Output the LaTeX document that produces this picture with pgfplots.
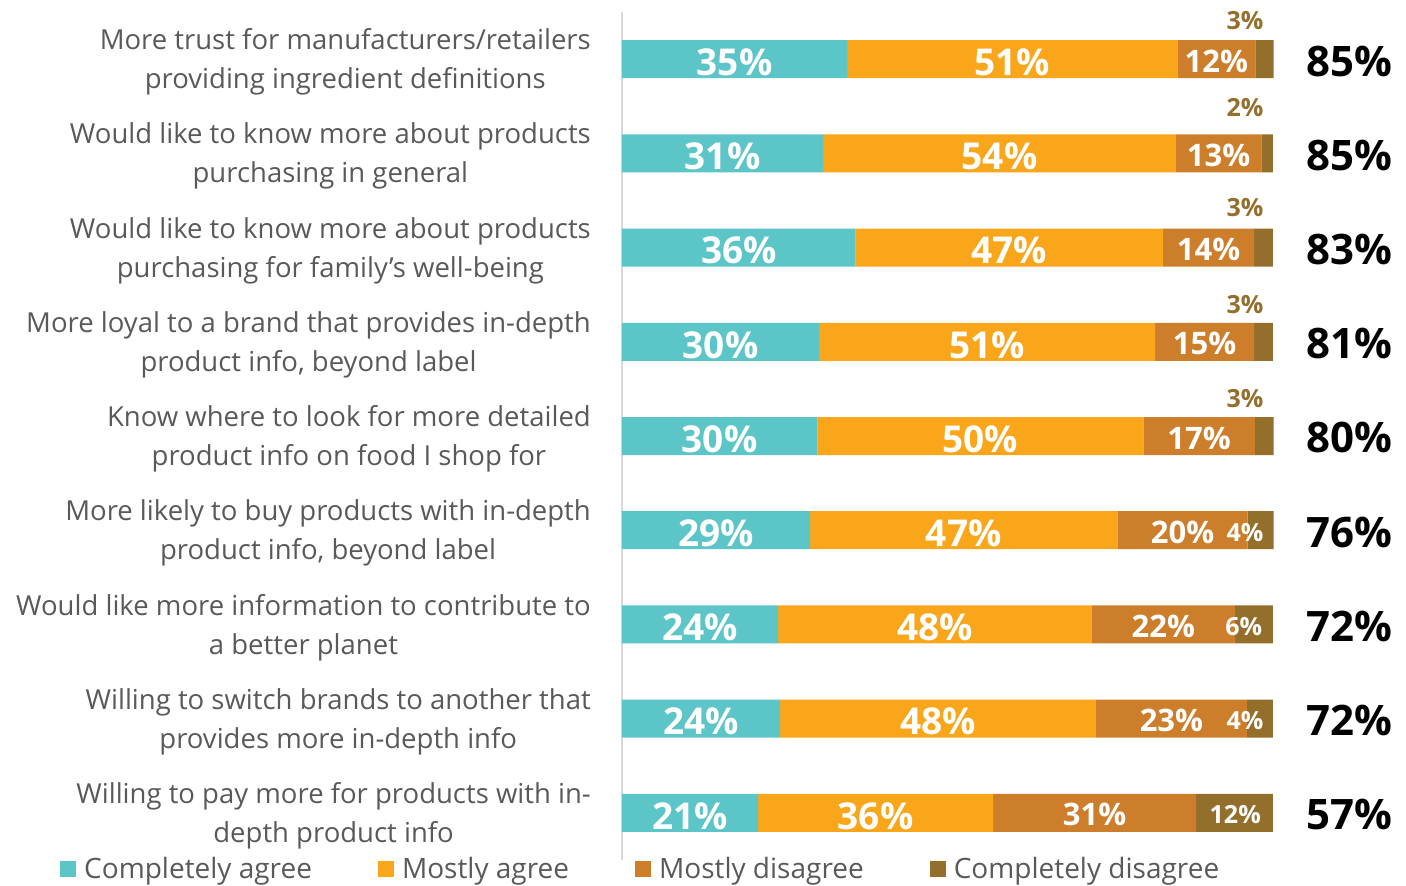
\documentclass[border=0pt]{standalone}
\usepackage{pgfplots}
\pgfplotsset{compat=1.18}
\usepackage{pgfplotstable}
\usepackage{fontspec}
\setmainfont{Open Sans}
\definecolor{cteal}{HTML}{5BC5C8}
\definecolor{corange}{HTML}{F9A61B}
\definecolor{cdorange}{HTML}{CD7E2A}
\definecolor{cbrown}{HTML}{936F2B}
\definecolor{tgray}{HTML}{595959}
\definecolor{lgray}{HTML}{D9D9D9}

\pgfplotstableread{
y a b c d la lb lc
0 34.6 50.7 12.0 2.8 35 51 12
1 30.9 54.2 13.1 1.8 31 54 13
2 35.9 47.2 14.0 2.9 36 47 14
3 30.3 51.6 15.2 2.9 30 51 15
4 30.0 50.1 17.1 2.9 30 50 17
5 28.9 47.2 20.0 4.0 29 47 20
6 24.0 48.1 22.1 5.8 24 48 22
7 24.3 48.5 23.2 4.0 24 48 23
8 20.9 36.1 31.2 11.8 21 36 31
}\bardata

\pgfplotstableread{
x y l
95.7 -0.414 3
95.7 0.51 2
95.7 1.58 3
95.7 2.6 3
95.7 3.6 3
}\abovelabels

\pgfplotstableread{
x y l
95.7 5.0 4
95.5 6.0 6
95.7 7.0 4
94.2 8.0 12
}\inlabels

\pgfplotstableread{
x y l
111.7 0.02 85
111.7 1.02 85
111.7 2.02 83
111.7 3.02 81
111.7 4.02 80
111.7 5.02 76
111.7 6.02 72
111.7 7.02 72
111.7 8.02 57
}\totals

\begin{document}
\begin{tikzpicture}
\useasboundingbox (-622pt,-26pt) rectangle (784pt,860pt);
\begin{axis}[
  at={(0,0)}, anchor=south west,
  scale only axis, width=651pt, height=848pt,
  xbar stacked, bar width=38pt,
  xmin=0, xmax=100, ymin=-0.5, ymax=8.5, y dir=reverse,
  axis x line=none, axis y line*=left,
  y axis line style={draw=lgray, line width=1.5pt},
  ytick={0,...,8}, ytick style={draw=none}, major tick length=0pt,
  yticklabels={
    {More trust for manufacturers/retailers\\providing ingredient definitions},
    {Would like to know more about products\\purchasing in general},
    {Would like to know more about products\\purchasing for family's well-being},
    {More loyal to a brand that provides in-depth\\product info, beyond label},
    {Know where to look for more detailed\\product info on food I shop for},
    {More likely to buy products with in-depth\\product info, beyond label},
    {Would like more information to contribute to\\a better planet},
    {Willing to switch brands to another that\\provides more in-depth info},
    {Willing to pay more for products with in-\\depth product info}},
  yticklabel style={align=center, font=\fontsize{27.5}{39}\selectfont, text=tgray, inner sep=1pt, xshift=-30pt, yshift=-3pt},
  clip=false,
  legend columns=4,
  legend style={at={(-0.8633,-0.0106)}, anchor=west, draw=none, fill=none, inner sep=0pt,
    font=\fontsize{28}{30}\selectfont, text=tgray,
    /tikz/every even column/.append style={column sep=66pt},
    nodes={inner sep=0pt}},
  legend image code/.code={\fill[#1] (0pt,-8pt) rectangle (16pt,8pt); \path (24pt,0pt);},
]
\addplot[fill=cteal, draw=none, nodes near coords={\pgfplotspointmeta\%}, point meta=explicit symbolic,
  every node near coord/.append style={anchor=center, yshift=-3pt, text=white, font=\fontsize{37}{40}\selectfont\bfseries}]
  table[x=a, y=y, meta=la]{\bardata};
\addlegendentry{Completely agree}
\addplot[fill=corange, draw=none, nodes near coords={\pgfplotspointmeta\%}, point meta=explicit symbolic,
  every node near coord/.append style={anchor=center, yshift=-3pt, text=white, font=\fontsize{37}{40}\selectfont\bfseries}]
  table[x=b, y=y, meta=lb]{\bardata};
\addlegendentry{Mostly agree}
\addplot[fill=cdorange, draw=none, nodes near coords={\pgfplotspointmeta\%}, point meta=explicit symbolic,
  every node near coord/.append style={anchor=center, yshift=-2pt, text=white, font=\fontsize{31}{34}\selectfont\bfseries}]
  table[x=c, y=y, meta=lc]{\bardata};
\addlegendentry{Mostly disagree}
\addplot[fill=cbrown, draw=none] table[x=d, y=y]{\bardata};
\addlegendentry{Completely disagree}
\end{axis}
\begin{axis}[
  at={(0,0)}, anchor=south west,
  scale only axis, width=651pt, height=848pt,
  xmin=0, xmax=100, ymin=-0.5, ymax=8.5, y dir=reverse,
  hide axis, clip=false]
\addplot[draw=none, mark=none, nodes near coords={\pgfplotspointmeta\%}, point meta=explicit symbolic,
  every node near coord/.style={anchor=center, text=cbrown, font=\fontsize{25}{28}\selectfont\bfseries}]
  table[x=x, y=y, meta=l]{\abovelabels};
\addplot[draw=none, mark=none, nodes near coords={\pgfplotspointmeta\%}, point meta=explicit symbolic,
  every node near coord/.style={anchor=center, yshift=-2pt, text=white, font=\fontsize{25}{28}\selectfont\bfseries}]
  table[x=x, y=y, meta=l]{\inlabels};
\addplot[draw=none, mark=none, nodes near coords={\pgfplotspointmeta\%}, point meta=explicit symbolic,
  every node near coord/.style={anchor=center, text=black, font=\fontsize{42}{46}\selectfont\bfseries}]
  table[x=x, y=y, meta=l]{\totals};
\end{axis}
\end{tikzpicture}
\end{document}
